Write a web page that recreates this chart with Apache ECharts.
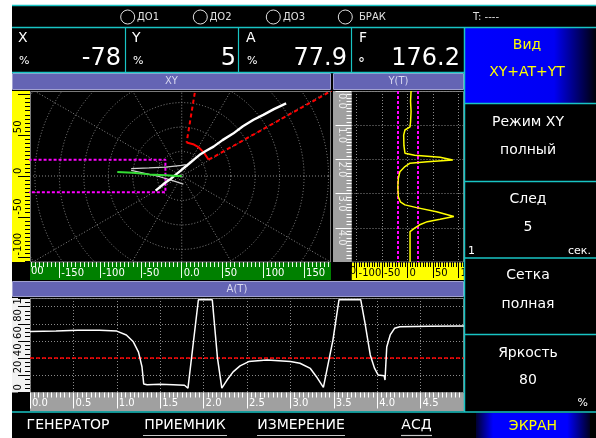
<!DOCTYPE html>
<html>
<head>
<meta charset="utf-8">
<script src="https://cdn.jsdelivr.net/npm/echarts@6/dist/echarts.min.js"></script>
<style>
html,body{margin:0;padding:0;background:#fff;}
#chart{width:596px;height:438px;}
</style>
</head>
<body>
<div id="chart"></div>
<script>
// ---------------- data ----------------
// A(T): amplitude vs time
const atTime = [0, 0.3, 0.55, 0.8, 1.0, 1.11, 1.19, 1.25, 1.29, 1.31, 1.35, 1.5, 1.65, 1.78, 1.82, 1.84, 1.94, 2.10, 2.16, 2.21, 2.27, 2.34, 2.42, 2.52, 2.73, 3.0, 3.11, 3.23, 3.30, 3.38, 3.49, 3.56, 3.81, 3.86, 3.92, 3.97, 4.01, 4.08, 4.09, 4.11, 4.15, 4.20, 4.26, 4.6, 5.0];
const atAmp  = [71, 71.5, 72.5, 72.5, 71.5, 67, 59, 47, 30, 10, 9, 9.5, 9, 8.5, 5, 3, 108, 108, 40, 5, 14.5, 24, 31, 36, 37.8, 36, 34, 28, 18.4, 6, 61, 108, 108, 80.5, 43.7, 28, 20.4, 19.6, 14.5, 53, 67, 74.7, 76.6, 77, 77.5];
// Y(T): Y component vs time
const ytTime = [0, 0.3, 0.6, 0.9, 1.05, 1.14, 1.29, 1.6, 1.82, 1.88, 1.94, 2.02, 2.07, 2.11, 2.21, 2.36, 2.55, 2.8, 3.09, 3.24, 3.33, 3.41, 3.53, 3.67, 3.75, 3.82, 3.92, 4.01, 4.11, 4.16, 4.5, 5.0];
const ytVal  = [7, 6, 7, 6, 5, -5, -7.5, -7, -5, 14, 64, 89, 39, 5, -5, -15, -18, -19, -18, -14, -5, 18, 57, 91, 64, 39, 23, 14, 5, 4, 5, 5];
// XY plane traces
const xyMainX = [-32, -26, -20, -14, -8, -2, 4, 10, 16, 22, 30, 39, 50, 63, 75, 88, 100, 113, 128];
const xyMainY = [-18, -13, -8, -4, 1, 6, 11, 16, 21, 26, 31, 36, 44, 52, 61, 69, 75, 82, 89];
const xyFanUpX = [-62, -40, -20, 0, 5];
const xyFanUpY = [9, 10, 11, 13, 14];
const xyFanLowX = [-62, -30, -10, 2];
const xyFanLowY = [7, 0, -6, -10];
const xyNowX = [-79, -60, -40, -20, -5, 0];
const xyNowY = [5, 4, 2, 1, 0, 0];
// alarm zones
const zoneRayAX = [16, 6];
const zoneRayAY = [102, 41];
const zoneArcX = [6, 14, 21, 27, 33];
const zoneArcY = [41, 39, 35, 29, 20];
const zoneRayBX = [33, 190];
const zoneRayBY = [20, 108];
const boxLimit = 20;
const ampThreshold = 40;
// tick labels
const xyXTicks = [-150, -100, -50, 0, 50, 100, 150];
const xyYTicks = [-100, -50, 0, 50];
const ytXTicks = [-100, -50, 0, 50, 100];
const ytTTicks = [0, 1, 2, 3, 4];
const atTTicks = [0, 0.5, 1, 1.5, 2, 2.5, 3, 3.5, 4, 4.5];
const atATicks = [0, 20, 40, 60, 80, 100];
const ringRadii = [30, 60, 90, 120, 150, 180, 210, 240, 270];
const spokeAngles = [0, 30, 60, 90, 120, 150];
// readouts / labels
const readX = '-78', readY = '5', readA = '77.9', readF = '176.2';

// ---------------- helpers ----------------
const FONT = 'DejaVu Sans';
const CYAN = '#18c4c4';
const HDR = '#6464b4';
const zip = (a, b) => a.map((v, i) => [v, b[i]]);
const range = (a, b, s) => { const r = []; for (let v = a; v <= b + 1e-9; v += s) r.push(+v.toFixed(4)); return r; };

const bg = [], ov = [];
const R = (arr, x, y, w, h, fill, stroke, zl) => arr.push({type:'rect', silent:true, zlevel: zl, z: 0, shape:{x, y, width:w, height:h}, style:{fill, stroke: stroke || null, lineWidth:1}});
const L = (arr, x1, y1, x2, y2, color, zl, w) => arr.push({type:'line', silent:true, zlevel: zl, z: 1, shape:{x1, y1, x2, y2}, style:{stroke: color, lineWidth: w || 1}});
const T = (text, x, y, size, color, align, extra) => ov.push({type:'text', silent:true, zlevel:1, z: 2, x, y,
  style: Object.assign({text, fill: color, fontSize: size, fontFamily: FONT, align: align || 'left', verticalAlign: 'middle'}, extra || {})});

// backgrounds (layer 0)
R(bg, 0, 0, 596, 438, '#ffffff', null, 0);
R(bg, 12, 5, 584, 433, '#000000', null, 0);
R(bg, 12, 91, 18, 171, '#ffff00', null, 0);        // XY Y ruler
R(bg, 30, 262.5, 301, 17.5, '#008000', null, 0);   // XY X ruler
R(bg, 333, 91, 18.5, 171, '#a0a0a0', null, 0);     // Y(T) time ruler
R(bg, 351.5, 262.5, 112.5, 17.5, '#ffff00', null, 0); // Y(T) value ruler
R(bg, 12, 298, 18, 94.5, '#f2f2f2', null, 0);      // A(T) amp ruler
R(bg, 30, 392.5, 434, 19, '#a0a0a0', null, 0);     // A(T) time ruler
R(bg, 30.5, 91.5, 300, 170.5, 'rgba(0,0,0,0)', '#7a7a7a', 0);
R(bg, 351.5, 91.5, 112, 170.5, 'rgba(0,0,0,0)', '#7a7a7a', 0);
R(bg, 30.5, 298.5, 433, 94, 'rgba(0,0,0,0)', '#7a7a7a', 0);
// ruler label fragments cut by the ruler edges
bg.push({type:'text', silent:true, zlevel:0, z:10, x:21, y:271, style:{text:'-200', fill:'#ffffff', fontSize:10, fontFamily:FONT, align:'left', verticalAlign:'middle'}});
bg.push({type:'text', silent:true, zlevel:0, z:10, x:333.5, y:271, style:{text:'-150', fill:'#000000', fontSize:10, fontFamily:FONT, align:'left', verticalAlign:'middle'}});

// overlays (layer 1)
R(ov, 0, 0, 596, 5, '#ffffff', null, 1);
R(ov, 0, 0, 12, 438, '#ffffff', null, 1);
R(ov, 12, 262, 18, 18, '#000000', null, 1);
R(ov, 331, 262, 20.5, 18, '#000000', null, 1);
R(ov, 12, 5, 584, 68, '#000000', null, 1);
R(ov, 12, 73, 452, 18, '#000000', null, 1);
R(ov, 12.5, 73.5, 318, 16, HDR, '#a0a0d0', 1);
R(ov, 333.5, 73.5, 130, 16, HDR, '#a0a0d0', 1);
R(ov, 12, 280, 452, 18, '#000000', null, 1);
R(ov, 12.5, 281.5, 451, 15, HDR, '#a0a0d0', 1);
R(ov, 464, 27, 132, 386, '#000000', null, 1);
R(ov, 12, 411.5, 584, 27, '#000000', null, 1);
ov.push({type:'rect', silent:true, zlevel:1, z:1, shape:{x:465, y:28, width:131, height:75},
  style:{fill: new echarts.graphic.LinearGradient(0,0,1,0,[{offset:0,color:'#0000ff'},{offset:0.68,color:'#0000f4'},{offset:1,color:'#000008'}])}});
ov.push({type:'rect', silent:true, zlevel:1, z:1, shape:{x:476, y:413, width:114, height:25},
  style:{fill: new echarts.graphic.LinearGradient(0,0,1,0,[{offset:0,color:'#000030'},{offset:0.15,color:'#0000ff'},{offset:0.8,color:'#0000ff'},{offset:1,color:'#000020'}])}});
// cyan frame lines
L(ov, 12, 5.5, 596, 5.5, CYAN, 1, 1.5);
L(ov, 12, 27.5, 596, 27.5, CYAN, 1, 1.5);
L(ov, 12, 72.5, 464, 72.5, CYAN, 1, 1.5);
L(ov, 12, 412, 596, 412, CYAN, 1, 1.5);
[125.5, 238.5, 351.5].forEach(x => L(ov, x, 27, x, 72, CYAN, 1, 1.2));
L(ov, 464.5, 27, 464.5, 412, CYAN, 1, 1.5);
[103.5, 181.5, 258, 334.5].forEach(y => L(ov, 464, y, 596, y, CYAN, 1, 1.5));

// top status bar
[[127.7, 'ДО1', 137], [200.3, 'ДО2', 209.5], [273.3, 'ДО3', 283], [345.3, 'БРАК', 359]].forEach(([cx, t, tx]) => {
  ov.push({type:'circle', silent:true, zlevel:1, z:2, shape:{cx, cy:17, r:7}, style:{fill:null, stroke:'#e0e0e0', lineWidth:1}});
  T(t, tx, 17.5, 10, '#e0e0e0');
});
T('T: ----', 473, 17.5, 10, '#e0e0e0');
// readouts
T('X', 18, 38, 14, '#ffffff'); T('%', 19, 61, 11, '#ffffff'); T(readX, 121, 59, 24, '#ffffff', 'right');
T('Y', 132, 38, 14, '#ffffff'); T('%', 133, 61, 11, '#ffffff'); T(readY, 236, 59, 24, '#ffffff', 'right');
T('A', 246, 38, 14, '#ffffff'); T('%', 247, 61, 11, '#ffffff'); T(readA, 347, 59, 24, '#ffffff', 'right');
T('F', 359, 38, 14, '#ffffff'); T('°', 358, 64, 14, '#ffffff'); T(readF, 460, 59, 24, '#ffffff', 'right');
// panel headers
T('XY', 171.5, 81.5, 10, '#d8d8f0', 'center');
T('Y(T)', 398.5, 81.5, 10, '#d8d8f0', 'center');
T('A(T)', 237, 289.5, 10, '#d8d8f0', 'center');
// right menu
T('Вид', 527, 45, 14, '#ffff00', 'center');
T('XY+AT+YT', 527, 72, 14, '#ffff00', 'center');
T('Режим XY', 528, 122, 14, '#ffffff', 'center');
T('полный', 528, 150, 14, '#ffffff', 'center');
T('След', 528, 199, 14, '#ffffff', 'center');
T('5', 528, 227, 14, '#ffffff', 'center');
T('1', 468, 251, 11, '#ffffff');
T('сек.', 591, 251, 11, '#ffffff', 'right');
T('Сетка', 528, 275, 14, '#ffffff', 'center');
T('полная', 528, 304, 14, '#ffffff', 'center');
T('Яркость', 528, 353, 14, '#ffffff', 'center');
T('80', 528, 380, 14, '#ffffff', 'center');
T('%', 588, 403, 11, '#ffffff', 'right');
T('ЭКРАН', 533, 426, 14, '#ffff00', 'center');
// bottom soft keys
T('ГЕНЕРАТОР', 68, 425.5, 14, '#ffffff', 'center');
T('ПРИЕМНИК', 185, 425.5, 14, '#ffffff', 'center');
T('ИЗМЕРЕНИЕ', 301, 425.5, 14, '#ffffff', 'center');
T('АСД', 416.5, 425.5, 14, '#ffffff', 'center');
L(ov, 143, 435.5, 227, 435.5, '#c8c8c8', 1, 1.2);
L(ov, 257, 435.5, 345, 435.5, '#c8c8c8', 1, 1.2);
L(ov, 401, 435.5, 432, 435.5, '#c8c8c8', 1, 1.2);

// ---------------- axes ----------------
const noLine = {show:false, onZero:false};
function minorAxis(base, minors, len, color) {
  return Object.assign({}, base, {
    axisLine: noLine, splitLine: {show:false}, axisLabel:{show:false},
    axisTick: {show:true, customValues: minors, length: len, lineStyle:{color, width:1}}
  });
}
const xyXBase = {type:'value', gridIndex:0, min:-186, max:183, position:'bottom', z:3};
const xyYBase = {type:'value', gridIndex:0, min:-105.4, max:104.2, position:'left', z:3};
const ytXBase = {type:'value', gridIndex:1, min:-110, max:110, position:'bottom', z:3};

const xAxis = [
  Object.assign({}, xyXBase, {
    axisLine: noLine, splitLine:{show:false},
    axisTick:{show:true, customValues:xyXTicks, length:16, lineStyle:{color:'#e8ffe8'}},
    axisLabel:{customValues:xyXTicks, color:'#ffffff', fontSize:10, fontFamily:FONT, align:'left', verticalAlign:'top', margin:6, padding:[0,0,0,2],
      formatter: v => v === 0 ? '0.0' : String(v)}
  }),
  minorAxis(xyXBase, range(-185, 180, 5), 5, '#e8ffe8'),
  Object.assign({}, ytXBase, {
    axisLine: noLine, splitLine:{show:false},
    axisTick:{show:true, customValues:ytXTicks, length:16, lineStyle:{color:'#000'}},
    axisLabel:{customValues:ytXTicks, color:'#000', fontSize:10, fontFamily:FONT, align:'left', verticalAlign:'top', margin:6, padding:[0,0,0,2]}
  }),
  minorAxis(ytXBase, range(-110, 110, 5), 5, '#000'),
  {type:'value', gridIndex:2, min:0, max:5, interval:0.5, position:'bottom', z:3,
    axisLine: noLine,
    splitLine:{show:true, lineStyle:{color:'#8a8a8a', type:[1,2]}},
    axisTick:{show:true, length:16, lineStyle:{color:'#ffffff'}},
    minorTick:{show:true, splitNumber:10, length:5, lineStyle:{color:'#ffffff'}},
    axisLabel:{customValues:atTTicks, color:'#ffffff', fontSize:10, fontFamily:FONT, align:'left', verticalAlign:'top', margin:6, padding:[0,0,0,2],
      formatter: v => v.toFixed(1)}
  }
];
const yAxis = [
  Object.assign({}, xyYBase, {
    axisLine: noLine, splitLine:{show:false},
    axisTick:{show:true, customValues:[-100,-50,0,50,100], length:12, lineStyle:{color:'#000'}},
    axisLabel:{customValues:xyYTicks, rotate:90, color:'#000', fontSize:10, fontFamily:FONT, align:'left', verticalAlign:'middle', margin:12, padding:[0,0,0,2]}
  }),
  minorAxis(xyYBase, range(-105, 100, 5), 5, '#000'),
  {type:'value', gridIndex:1, min:0, max:5, interval:1, inverse:true, position:'left', z:3,
    axisLine: noLine,
    splitLine:{show:true, lineStyle:{color:'#8a8a8a', type:[1,2]}},
    axisTick:{show:true, length:16, lineStyle:{color:'#ffffff'}},
    minorTick:{show:true, splitNumber:10, length:5, lineStyle:{color:'#ffffff'}},
    axisLabel:{customValues:ytTTicks, rotate:-90, color:'#eeeeee', fontSize:10, fontFamily:FONT, align:'left', verticalAlign:'middle', margin:10, padding:[0,0,0,2],
      formatter: v => v.toFixed(1)}
  },
  {type:'value', gridIndex:2, min:0, max:110, interval:20, position:'left', z:3,
    axisLine: noLine,
    splitLine:{show:true, lineStyle:{color:'#8a8a8a', type:[1,2]}},
    axisTick:{show:true, length:12, lineStyle:{color:'#000'}},
    minorTick:{show:true, splitNumber:4, length:5, lineStyle:{color:'#000'}},
    axisLabel:{customValues:atATicks, rotate:90, color:'#000', fontSize:10, fontFamily:FONT, align:'left', verticalAlign:'middle', margin:12, padding:[0,0,0,2]}
  }
];

// ---------------- series ----------------
const lineS = (xi, yi, data, color, width, dash, z) => ({
  type:'line', xAxisIndex:xi, yAxisIndex:yi, data, showSymbol:false, symbol:'none', silent:true, clip:true, z: z || 6,
  lineStyle:{color, width, type: dash || 'solid'}, animation:false
});
const gridLineStyle = {color:'#8a8a8a', width:1, type:[1,2]};

const series = [
  { type:'custom', xAxisIndex:0, yAxisIndex:0, clip:true, silent:true, z:4, data: ringRadii.map(r => [r, 0]),
    renderItem: (params, api) => {
      const c = api.coord([0, 0]); const e = api.coord([api.value(0), 0]);
      return {type:'circle', shape:{cx:c[0], cy:c[1], r:e[0]-c[0]}, style:{fill:null, stroke:'#8a8a8a', lineWidth:1, lineDash:[1,2]}};
    }},
  { type:'custom', xAxisIndex:0, yAxisIndex:0, clip:true, silent:true, z:4, data: spokeAngles.map(a => [a, 0]),
    renderItem: (params, api) => {
      const a = api.value(0) * Math.PI / 180, Lr = 400;
      const p1 = api.coord([Lr*Math.cos(a), Lr*Math.sin(a)]);
      const p2 = api.coord([-Lr*Math.cos(a), -Lr*Math.sin(a)]);
      return {type:'line', shape:{x1:p1[0], y1:p1[1], x2:p2[0], y2:p2[1]}, style:{stroke:'#8a8a8a', lineWidth:1, lineDash:[1,2]}};
    }},
  lineS(0, 0, [[-200, boxLimit], [-boxLimit, boxLimit], [-boxLimit, -boxLimit], [-200, -boxLimit]], '#ff00ff', 2, [3,2]),
  lineS(0, 0, zip(zoneRayAX, zoneRayAY), '#ff0000', 2, [4,3]),
  lineS(0, 0, zip(zoneArcX, zoneArcY), '#ff0000', 2),
  lineS(0, 0, zip(zoneRayBX, zoneRayBY), '#ff0000', 2, [4,3]),
  lineS(0, 0, zip(xyFanUpX, xyFanUpY), '#d0d0d0', 1.2),
  lineS(0, 0, zip(xyFanLowX, xyFanLowY), '#d0d0d0', 1.2),
  lineS(0, 0, zip(xyMainX, xyMainY), '#ffffff', 2.4, null, 7),
  lineS(0, 0, zip(xyNowX, xyNowY), '#33dd33', 2, null, 8),
  // Y(T)
  { type:'line', xAxisIndex:2, yAxisIndex:2, data:[], silent:true, z:4,
    markLine:{silent:true, symbol:'none', label:{show:false}, animation:false, lineStyle: gridLineStyle,
      data: ytXTicks.map(v => ({xAxis: v}))}},
  { type:'line', xAxisIndex:2, yAxisIndex:2, data:[], silent:true, z:5,
    markLine:{silent:true, symbol:'none', label:{show:false}, animation:false, lineStyle:{color:'#ff00ff', width:2, type:[3,2]},
      data: [{xAxis: -boxLimit}, {xAxis: boxLimit}]}},
  lineS(2, 2, zip(ytVal, ytTime), '#ffff00', 1.5, null, 7),
  // A(T)
  { type:'line', xAxisIndex:4, yAxisIndex:3, data:[], silent:true, z:5,
    markLine:{silent:true, symbol:'none', label:{show:false}, animation:false, lineStyle:{color:'#ff0000', width:1.5, type:[4,2]},
      data: [{yAxis: ampThreshold}]}},
  lineS(4, 3, zip(atTime, atAmp), '#ffffff', 1.5, null, 7)
];

const chart = echarts.init(document.getElementById('chart'), null, {renderer:'canvas', width:596, height:438});
chart.setOption({
  animation:false,
  backgroundColor:'#ffffff',
  textStyle:{fontFamily:FONT},
  grid:[
    {left:30, top:91, width:301, height:171},
    {left:351.5, top:91, width:112, height:171},
    {left:30, top:298, width:434, height:94.5}
  ],
  xAxis, yAxis, series,
  graphic:{elements: bg.concat(ov)}
});
</script>
</body>
</html>
